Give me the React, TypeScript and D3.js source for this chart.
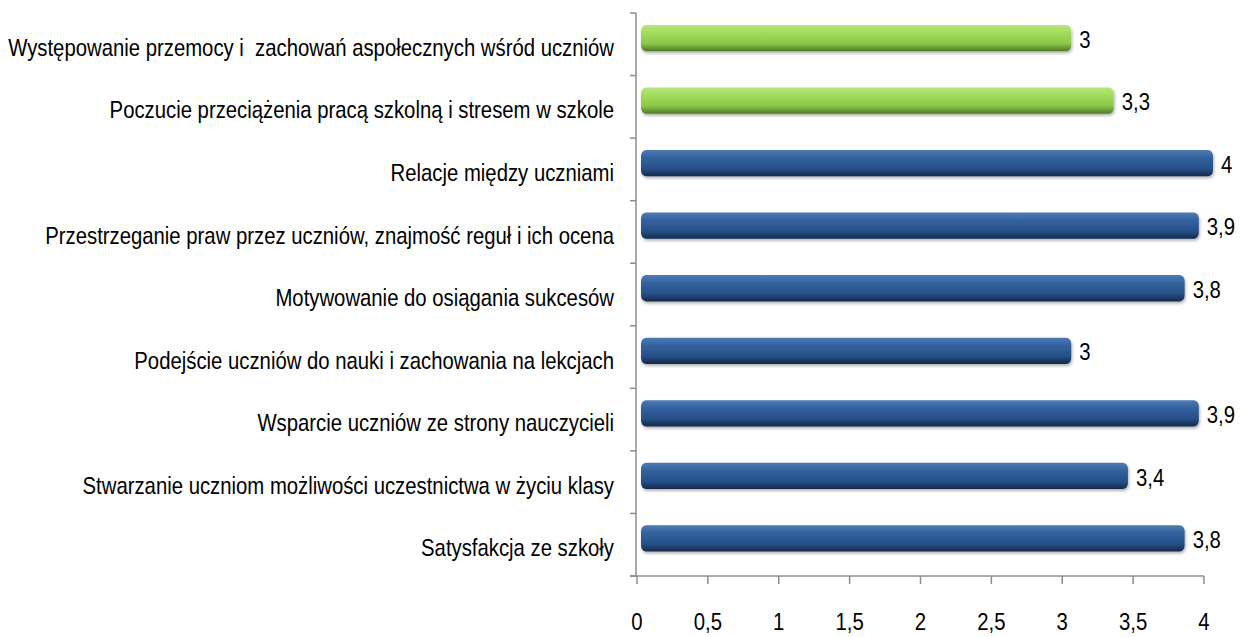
import React, { useLayoutEffect, useRef, useState } from "react";
import * as d3 from "d3";

const categories: string[] = [
  "Występowanie przemocy i  zachowań aspołecznych wśród uczniów",
  "Poczucie przeciążenia pracą szkolną i stresem w szkole",
  "Relacje między uczniami",
  "Przestrzeganie praw przez uczniów, znajmość reguł i ich ocena",
  "Motywowanie do osiągania sukcesów",
  "Podejście uczniów do nauki i zachowania na lekcjach",
  "Wsparcie uczniów ze strony nauczycieli",
  "Stwarzanie uczniom możliwości uczestnictwa w życiu klasy",
  "Satysfakcja ze szkoły",
];
const values: number[] = [3, 3.3, 4, 3.9, 3.8, 3, 3.9, 3.4, 3.8];
const seriesGroup: string[] = ["green", "green", "blue", "blue", "blue", "blue", "blue", "blue", "blue"];
const xTicks: number[] = [0, 0.5, 1, 1.5, 2, 2.5, 3, 3.5, 4];

const W = 1240;
const H = 637;
const FONT = "'Liberation Sans', Arial, sans-serif";
const FS = 24;
const fmt = (v: number) => String(v).replace(".", ",");

export default function App() {
  const x = d3.scaleLinear().domain([0, 4]).range([637, 1204]);
  const y = d3.scaleBand<string>().domain(categories).range([13, 576]).paddingInner(0).paddingOuter(0);
  const bw = y.bandwidth();
  const labelRef = useRef<SVGTextElement | null>(null);
  const [sx, setSx] = useState(0.75);

  useLayoutEffect(() => {
    if (labelRef.current) {
      const len = labelRef.current.getComputedTextLength();
      if (len > 0) setSx(606 / len);
    }
  }, []);

  const axisColor = "#8c8c8c";
  const boundaries = d3.range(categories.length + 1).map((i) => 13 + i * bw);

  return (
    <svg width={W} height={H} style={{ position: "absolute", left: 0, top: 0, background: "#fff" }}>
      <defs>
        <linearGradient id="gGreen" x1="0" y1="0" x2="0" y2="1">
          <stop offset="0" stopColor="#b9e67a" />
          <stop offset="0.3" stopColor="#a2dc5c" />
          <stop offset="0.7" stopColor="#8cc84a" />
          <stop offset="1" stopColor="#4f7a26" />
        </linearGradient>
        <linearGradient id="gBlue" x1="0" y1="0" x2="0" y2="1">
          <stop offset="0" stopColor="#4d7bb6" />
          <stop offset="0.3" stopColor="#33629e" />
          <stop offset="0.72" stopColor="#264f86" />
          <stop offset="1" stopColor="#12294a" />
        </linearGradient>
        <filter id="shadow" x="-5%" y="-30%" width="110%" height="170%">
          <feDropShadow dx="1" dy="2" stdDeviation="1.5" floodColor="#000" floodOpacity="0.3" />
        </filter>
      </defs>

      {/* axes */}
      <line x1={636} x2={636} y1={13} y2={576} stroke={axisColor} strokeWidth={1.5} />
      <line x1={630} x2={1204} y1={576} y2={576} stroke={axisColor} strokeWidth={1.5} />
      {boundaries.map((b, i) => (
        <line key={"yt" + i} x1={630} x2={636} y1={b} y2={b} stroke={axisColor} strokeWidth={1.5} />
      ))}
      {xTicks.map((t) => (
        <line key={"xt" + t} x1={x(t)} x2={x(t)} y1={576} y2={584} stroke={axisColor} strokeWidth={1.5} />
      ))}

      {/* bars */}
      {categories.map((c, i) => {
        const top = (y(c) as number) + bw * 0.19;
        const h = bw * 0.42;
        const x0 = x(0) + 4;
        const x1 = x(values[i]) + 9;
        return (
          <g key={"bar" + i}>
            <rect
              x={x0}
              y={top}
              width={x1 - x0}
              height={h}
              rx={5}
              ry={6}
              fill={seriesGroup[i] === "green" ? "url(#gGreen)" : "url(#gBlue)"}
              filter="url(#shadow)"
            />
            <text
              x={0}
              y={0}
              dy="0.36em"
              fontFamily={FONT}
              fontSize={FS}
              fill="#000"
              transform={`translate(${x1 + 8},${top + h / 2 + 1}) scale(${sx},1)`}
            >
              {fmt(values[i])}
            </text>
          </g>
        );
      })}

      {/* category labels */}
      {categories.map((c, i) => {
        const cx = 614;
        const cy = (y(c) as number) + bw / 2 + 3;
        return (
          <text
            key={"lab" + i}
            ref={i === 0 ? labelRef : undefined}
            x={0}
            y={0}
            dy="0.36em"
            textAnchor="end"
            fontFamily={FONT}
            fontSize={FS}
            fill="#000"
            style={{ whiteSpace: "pre" }}
            transform={`translate(${cx},${cy}) scale(${sx},1)`}
          >
            {c}
          </text>
        );
      })}

      {/* x tick labels */}
      {xTicks.map((t) => (
        <text
          key={"xl" + t}
          x={0}
          y={0}
          dy="0.36em"
          textAnchor="middle"
          fontFamily={FONT}
          fontSize={FS}
          fill="#000"
          transform={`translate(${x(t)},${621}) scale(${sx},1)`}
        >
          {fmt(t)}
        </text>
      ))}
    </svg>
  );
}
